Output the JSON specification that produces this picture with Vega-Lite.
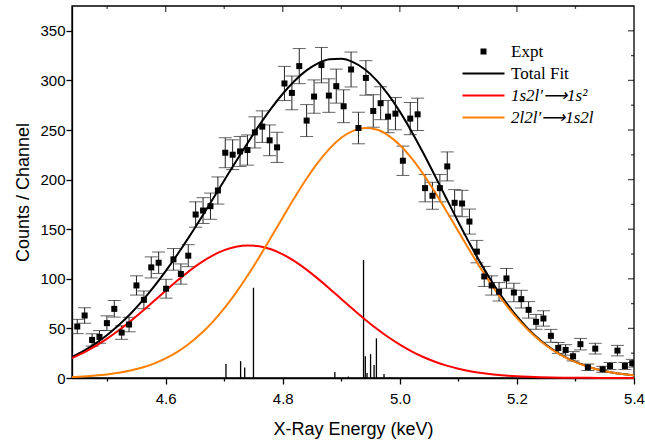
{
  "$schema": "https://vega.github.io/schema/vega-lite/v6.json",
  "width": 562,
  "height": 372,
  "autosize": {"type": "none"},
  "padding": {"left": 72, "top": 6, "right": 11, "bottom": 64},
  "background": "white",
  "config": {
    "view": {"stroke": null},
    "axis": {
      "domain": true, "domainColor": "black", "domainWidth": 1.3, "tickColor": "black", "tickWidth": 1.3,
      "labelFont": "Liberation Sans", "labelFontSize": 15, "labelColor": "black",
      "titleFont": "Liberation Sans", "titleFontSize": 18, "titleFontWeight": "normal", "titleColor": "black",
      "labelOverlap": false, "labelFlush": false, "grid": false
    }
  },
  "datasets": {
    "expt": [
      {"E":4.449,"v":51.9,"lo":44.7,"hi":59.1},{"E":4.4616,"v":63.0,"lo":55.1,"hi":70.9},{"E":4.4743,"v":38.4,"lo":32.2,"hi":44.6},
      {"E":4.4869,"v":41.4,"lo":35.0,"hi":47.8},{"E":4.4996,"v":55.3,"lo":47.9,"hi":62.7},{"E":4.5122,"v":69.7,"lo":61.4,"hi":78.1},
      {"E":4.5248,"v":45.8,"lo":39.0,"hi":52.6},{"E":4.5375,"v":53.9,"lo":46.6,"hi":61.2},{"E":4.5501,"v":93.3,"lo":83.6,"hi":103.0},
      {"E":4.5628,"v":78.8,"lo":69.9,"hi":87.7},{"E":4.5754,"v":111.5,"lo":100.9,"hi":122.1},{"E":4.5880,"v":116.2,"lo":105.4,"hi":127.0},
      {"E":4.6007,"v":90.0,"lo":80.5,"hi":99.5},{"E":4.6133,"v":119.6,"lo":108.7,"hi":130.5},{"E":4.6260,"v":104.8,"lo":94.6,"hi":115.0},
      {"E":4.6386,"v":123.3,"lo":112.2,"hi":134.4},{"E":4.6512,"v":164.8,"lo":152.0,"hi":177.6},{"E":4.6639,"v":168.8,"lo":155.8,"hi":181.8},
      {"E":4.6765,"v":173.2,"lo":160.0,"hi":186.4},{"E":4.6892,"v":189.0,"lo":175.3,"hi":202.7},{"E":4.7018,"v":227.1,"lo":212.0,"hi":242.2},
      {"E":4.7144,"v":225.1,"lo":210.1,"hi":240.1},{"E":4.7271,"v":228.4,"lo":213.3,"hi":243.5},{"E":4.7397,"v":229.8,"lo":214.6,"hi":245.0},
      {"E":4.7524,"v":247.6,"lo":231.9,"hi":263.3},{"E":4.7650,"v":253.4,"lo":237.5,"hi":269.3},{"E":4.7776,"v":239.6,"lo":224.1,"hi":255.1},
      {"E":4.7903,"v":232.5,"lo":217.3,"hi":247.7},{"E":4.8029,"v":296.9,"lo":279.7,"hi":314.1},{"E":4.8156,"v":287.4,"lo":270.4,"hi":304.4},
      {"E":4.8282,"v":314.4,"lo":296.7,"hi":332.1},{"E":4.8408,"v":259.5,"lo":243.4,"hi":275.6},{"E":4.8535,"v":283.7,"lo":266.9,"hi":300.5},
      {"E":4.8661,"v":315.4,"lo":297.6,"hi":333.2},{"E":4.8788,"v":284.7,"lo":267.8,"hi":301.6},{"E":4.8914,"v":294.2,"lo":277.1,"hi":311.4},
      {"E":4.9040,"v":273.9,"lo":257.4,"hi":290.5},{"E":4.9167,"v":311.0,"lo":293.4,"hi":328.6},{"E":4.9293,"v":252.0,"lo":236.1,"hi":267.9},
      {"E":4.9420,"v":302.5,"lo":285.1,"hi":319.9},{"E":4.9546,"v":269.2,"lo":252.8,"hi":285.6},{"E":4.9672,"v":277.0,"lo":260.4,"hi":293.6},
      {"E":4.9799,"v":263.5,"lo":247.3,"hi":279.7},{"E":4.9925,"v":266.5,"lo":250.2,"hi":282.8},{"E":5.0052,"v":219.0,"lo":204.2,"hi":233.8},
      {"E":5.0178,"v":261.5,"lo":245.3,"hi":277.7},{"E":5.0304,"v":265.8,"lo":249.5,"hi":282.1},{"E":5.0431,"v":191.4,"lo":177.6,"hi":205.2},
      {"E":5.0557,"v":183.7,"lo":170.1,"hi":197.3},{"E":5.0684,"v":191.4,"lo":177.6,"hi":205.2},{"E":5.0810,"v":213.3,"lo":198.7,"hi":227.9},
      {"E":5.0936,"v":176.6,"lo":163.3,"hi":189.9},{"E":5.1063,"v":175.9,"lo":162.6,"hi":189.2},{"E":5.1189,"v":157.7,"lo":145.1,"hi":170.3},
      {"E":5.1316,"v":127.4,"lo":116.1,"hi":138.7},{"E":5.1442,"v":102.4,"lo":92.3,"hi":112.5},{"E":5.1568,"v":93.3,"lo":83.6,"hi":103.0},
      {"E":5.1695,"v":86.9,"lo":77.6,"hi":96.2},{"E":5.1821,"v":100.4,"lo":90.4,"hi":110.4},{"E":5.1948,"v":86.2,"lo":76.9,"hi":95.5},
      {"E":5.2074,"v":79.5,"lo":70.6,"hi":88.4},{"E":5.2200,"v":68.7,"lo":60.4,"hi":77.0},{"E":5.2327,"v":56.6,"lo":49.1,"hi":64.1},
      {"E":5.2453,"v":60.0,"lo":52.3,"hi":67.8},{"E":5.2580,"v":42.5,"lo":36.0,"hi":49.0},{"E":5.2706,"v":30.3,"lo":24.8,"hi":35.8},
      {"E":5.2832,"v":28.3,"lo":23.0,"hi":33.6},{"E":5.2959,"v":21.9,"lo":17.2,"hi":26.6},{"E":5.3085,"v":34.1,"lo":28.3,"hi":39.9},
      {"E":5.3212,"v":10.8,"lo":7.5,"hi":14.1},{"E":5.3338,"v":29.6,"lo":24.2,"hi":35.0},{"E":5.3464,"v":8.8,"lo":5.8,"hi":11.8},
      {"E":5.3591,"v":12.1,"lo":8.6,"hi":15.6},{"E":5.3717,"v":27.6,"lo":22.3,"hi":32.9},{"E":5.3844,"v":12.1,"lo":8.6,"hi":15.6},
      {"E":5.3970,"v":14.9,"lo":11.0,"hi":18.8}
    ],
    "fit": [
      {"E":4.44,"total":21.21,"red":20.16,"orange":1.05},{"E":4.46,"total":27.30,"red":25.68,"orange":1.62},
      {"E":4.48,"total":34.61,"red":32.18,"orange":2.43},{"E":4.50,"total":43.27,"red":39.67,"orange":3.60},
      {"E":4.52,"total":53.33,"red":48.09,"orange":5.24},{"E":4.54,"total":64.83,"red":57.34,"orange":7.49},
      {"E":4.56,"total":77.78,"red":67.25,"orange":10.53},{"E":4.58,"total":92.11,"red":77.56,"orange":14.55},
      {"E":4.60,"total":107.74,"red":87.99,"orange":19.75},{"E":4.62,"total":124.53,"red":98.18,"orange":26.35},
      {"E":4.64,"total":142.29,"red":107.74,"orange":34.55},{"E":4.66,"total":160.81,"red":116.29,"orange":44.52},
      {"E":4.68,"total":179.84,"red":123.45,"orange":56.39},{"E":4.70,"total":199.09,"red":128.89,"orange":70.20},
      {"E":4.72,"total":218.25,"red":132.36,"orange":85.89},{"E":4.74,"total":236.97,"red":133.69,"orange":103.28},
      {"E":4.76,"total":254.87,"red":132.80,"orange":122.07},{"E":4.78,"total":271.55,"red":129.76,"orange":141.79},
      {"E":4.80,"total":286.56,"red":124.69,"orange":161.87},{"E":4.82,"total":299.47,"red":117.85,"orange":181.62},
      {"E":4.84,"total":309.85,"red":109.55,"orange":200.30},{"E":4.86,"total":317.25,"red":100.16,"orange":217.09},
      {"E":4.88,"total":321.31,"red":90.06,"orange":231.25},{"E":4.90,"total":321.76,"red":79.65,"orange":242.11},
      {"E":4.92,"total":318.42,"red":69.29,"orange":249.13},{"E":4.94,"total":311.23,"red":59.28,"orange":251.95},
      {"E":4.96,"total":300.31,"red":49.88,"orange":250.43},{"E":4.98,"total":285.92,"red":41.28,"orange":244.64},
      {"E":5.00,"total":268.50,"red":33.61,"orange":234.89},{"E":5.02,"total":248.55,"red":26.90,"orange":221.65},
      {"E":5.04,"total":226.75,"red":21.18,"orange":205.57},{"E":5.06,"total":203.77,"red":16.40,"orange":187.37},
      {"E":5.08,"total":180.37,"red":12.50,"orange":167.87},{"E":5.10,"total":157.17,"red":9.36,"orange":147.81},
      {"E":5.12,"total":134.80,"red":6.90,"orange":127.90},{"E":5.14,"total":113.79,"red":5.00,"orange":108.79},
      {"E":5.16,"total":94.50,"red":3.56,"orange":90.94},{"E":5.18,"total":77.22,"red":2.50,"orange":74.72},
      {"E":5.20,"total":62.05,"red":1.72,"orange":60.33},{"E":5.22,"total":49.05,"red":1.17,"orange":47.88},
      {"E":5.24,"total":38.13,"red":0.78,"orange":37.35},{"E":5.26,"total":29.13,"red":0.51,"orange":28.62},
      {"E":5.28,"total":21.90,"red":0.33,"orange":21.57},{"E":5.30,"total":16.18,"red":0.21,"orange":15.97},
      {"E":5.32,"total":11.75,"red":0.13,"orange":11.62},{"E":5.34,"total":8.39,"red":0.08,"orange":8.31},
      {"E":5.36,"total":5.89,"red":0.05,"orange":5.84},{"E":5.38,"total":4.07,"red":0.03,"orange":4.04},
      {"E":5.40,"total":2.76,"red":0.02,"orange":2.74}
    ],
    "sticks": [
      {"E":4.703,"s":14},{"E":4.728,"s":17},{"E":4.735,"s":10.5},{"E":4.750,"s":91},
      {"E":4.889,"s":6},{"E":4.912,"s":1.5},{"E":4.938,"s":119},{"E":4.941,"s":22},
      {"E":4.944,"s":5},{"E":4.950,"s":24},{"E":4.956,"s":13},{"E":4.960,"s":40},
      {"E":4.973,"s":4},{"E":4.983,"s":1}
    ],
    "xticks": [{"t":4.5},{"t":4.6},{"t":4.7},{"t":4.8},{"t":4.9},{"t":5.0},{"t":5.1},{"t":5.2},{"t":5.3}],
    "yticks": [{"t":25},{"t":50},{"t":75},{"t":100},{"t":125},{"t":150},{"t":175},{"t":200},{"t":225},{"t":250},{"t":275},{"t":300},{"t":325},{"t":350}]
  },
  "layer": [
    {
      "data": {"name": "sticks"},
      "mark": {"type": "rule", "color": "black", "strokeWidth": 1.3},
      "encoding": {
        "x": {"field": "E", "type": "quantitative", "title": "X-Ray Energy (keV)",
          "scale": {"domain": [4.44, 5.4], "nice": false, "zero": false},
          "axis": {"orient": "bottom", "titlePadding": 14,
            "values": [4.5,4.6,4.7,4.8,4.9,5.0,5.1,5.2,5.3,5.4],
            "labelExpr": "round(datum.value*10) % 2 === 0 ? format(datum.value, '.1f') : ''",
            "tickSize": {"condition": {"test": "round(datum.value*10) % 2 === 0", "value": 6}, "value": 3},
            "labelPadding": 7}},
        "y": {"field": "s", "type": "quantitative", "title": "Counts / Channel",
          "scale": {"domain": [0, 375], "nice": false},
          "axis": {"orient": "left", "titlePadding": 7,
            "values": [0,25,50,75,100,125,150,175,200,225,250,275,300,325,350,375],
            "labelExpr": "datum.value % 50 === 0 ? datum.label : ''",
            "tickSize": {"condition": {"test": "datum.value % 50 === 0", "value": 6}, "value": 3},
            "labelPadding": 1}},
        "y2": {"datum": 0}
      }
    },
    {
      "data": {"values": [{}]},
      "mark": {"type": "rect", "filled": false, "fill": null, "stroke": "black", "strokeWidth": 1.3},
      "encoding": {
        "x": {"datum": 4.44, "type": "quantitative", "title": "X-Ray Energy (keV)"},
        "x2": {"datum": 5.4},
        "y": {"datum": 0, "type": "quantitative", "title": "Counts / Channel"},
        "y2": {"datum": 375}
      }
    },
    {
      "data": {"name": "xticks"},
      "mark": {"type": "tick", "orient": "vertical", "thickness": 1.3, "color": "black", "clip": true},
      "encoding": {
        "x": {"field": "t", "type": "quantitative", "title": "X-Ray Energy (keV)"},
        "y": {"datum": 375, "type": "quantitative", "title": "Counts / Channel"},
        "size": {"condition": {"test": "round(datum.t*10) % 2 === 0", "value": 12}, "value": 6}
      }
    },
    {
      "data": {"name": "yticks"},
      "mark": {"type": "tick", "orient": "horizontal", "thickness": 1.3, "color": "black", "clip": true},
      "encoding": {
        "x": {"datum": 5.4, "type": "quantitative", "title": "X-Ray Energy (keV)"},
        "y": {"field": "t", "type": "quantitative", "title": "Counts / Channel"},
        "size": {"condition": {"test": "datum.t % 50 === 0", "value": 12}, "value": 6}
      }
    },
    {
      "data": {"name": "expt"},
      "mark": {"type": "rule", "color": "#222222", "strokeWidth": 1},
      "encoding": {
        "x": {"field": "E", "type": "quantitative", "title": "X-Ray Energy (keV)"},
        "y": {"field": "lo", "type": "quantitative", "title": "Counts / Channel"},
        "y2": {"field": "hi"}
      }
    },
    {
      "data": {"name": "expt"},
      "mark": {"type": "tick", "orient": "horizontal", "size": 13, "thickness": 1, "color": "#222222", "clip": true},
      "encoding": {
        "x": {"field": "E", "type": "quantitative", "title": "X-Ray Energy (keV)"},
        "y": {"field": "lo", "type": "quantitative", "title": "Counts / Channel"}
      }
    },
    {
      "data": {"name": "expt"},
      "mark": {"type": "tick", "orient": "horizontal", "size": 13, "thickness": 1, "color": "#222222", "clip": true},
      "encoding": {
        "x": {"field": "E", "type": "quantitative", "title": "X-Ray Energy (keV)"},
        "y": {"field": "hi", "type": "quantitative", "title": "Counts / Channel"}
      }
    },
    {
      "data": {"name": "fit"},
      "mark": {"type": "line", "strokeWidth": 2, "interpolate": "monotone"},
      "encoding": {
        "x": {"field": "E", "type": "quantitative", "title": "X-Ray Energy (keV)"},
        "y": {"field": "total", "type": "quantitative", "title": "Counts / Channel"},
        "color": {"datum": "Total Fit", "type": "nominal",
          "scale": {"domain": ["Expt", "Total Fit", "1s2l′⟶1s²", "2l2l′⟶1s2l"], "range": ["black", "black", "#ff0000", "#ff8000"]},
          "legend": {"title": null, "orient": "none", "legendX": 403, "legendY": 37, "padding": 0,
            "symbolSize": 100, "labelFont": "Liberation Serif", "labelFontSize": 17, "labelColor": "black",
            "labelOffset": 19, "rowPadding": 4, "labelLimit": 300, "symbolOpacity": 1,
            "symbolType": {"expr": "datum.value === 'Expt' ? 'M-0.6,-0.6H0.6V0.6H-0.6Z' : 'M-4.2,0H4.2'"},
            "symbolFillColor": {"expr": "scale('color', datum.value)"},
            "symbolStrokeColor": {"expr": "scale('color', datum.value)"},
            "symbolStrokeWidth": {"expr": "datum.value === 'Expt' ? 0 : 2"},
            "labelFontStyle": {"expr": "datum.value === 'Expt' || datum.value === 'Total Fit' ? 'normal' : 'italic'"}}}
      }
    },
    {
      "data": {"name": "fit"},
      "mark": {"type": "line", "strokeWidth": 2, "interpolate": "monotone"},
      "encoding": {
        "x": {"field": "E", "type": "quantitative", "title": "X-Ray Energy (keV)"},
        "y": {"field": "red", "type": "quantitative", "title": "Counts / Channel"},
        "color": {"datum": "1s2l′⟶1s²", "type": "nominal"}
      }
    },
    {
      "data": {"name": "fit"},
      "mark": {"type": "line", "strokeWidth": 2, "interpolate": "monotone"},
      "encoding": {
        "x": {"field": "E", "type": "quantitative", "title": "X-Ray Energy (keV)"},
        "y": {"field": "orange", "type": "quantitative", "title": "Counts / Channel"},
        "color": {"datum": "2l2l′⟶1s2l", "type": "nominal"}
      }
    },
    {
      "data": {"name": "expt"},
      "mark": {"type": "point", "shape": "square", "filled": true, "size": 36, "opacity": 1, "clip": true},
      "encoding": {
        "x": {"field": "E", "type": "quantitative", "title": "X-Ray Energy (keV)"},
        "y": {"field": "v", "type": "quantitative", "title": "Counts / Channel"},
        "color": {"datum": "Expt", "type": "nominal"}
      }
    }
  ]
}
